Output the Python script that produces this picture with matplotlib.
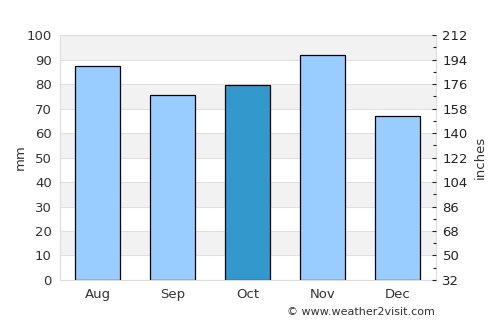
import matplotlib
matplotlib.use("Agg")
import matplotlib.pyplot as plt
import numpy as np

months = ["Aug", "Sep", "Oct", "Nov", "Dec"]
rain_mm = [87.3, 75.5, 79.6, 91.8, 66.9]
bar_colors = ["#99ccff", "#99ccff", "#3399cc", "#99ccff", "#99ccff"]
left_ticks = list(range(0, 101, 10))
right_labels = [32, 50, 68, 86, 104, 122, 140, 158, 176, 194, 212]

fig = plt.figure(figsize=(5, 3.25), dpi=100)
ax = fig.add_axes([0.12, 0.1385, 0.751, 0.7535])

ax.set_xlim(-0.5, 4.5)
ax.set_ylim(0, 100)
for i in range(0, 100, 20):
    ax.axhspan(i + 10, i + 20, color="#f2f2f2", zorder=0, lw=0)
for t in left_ticks:
    ax.axhline(t, color="#e0e0e0", lw=0.8, zorder=0.5)

x = np.arange(len(months))
ax.bar(x, rain_mm, width=0.6, color=bar_colors, edgecolor="black", linewidth=0.9, zorder=2)

ax.set_xticks(x)
ax.set_xticklabels(months)
ax.set_yticks(left_ticks)
ax.tick_params(axis="both", length=0, colors="#333333", labelsize=9.5, pad=6)
for s in ax.spines.values():
    s.set_color("#dddddd")
    s.set_linewidth(0.8)
ax.set_ylabel("mm", color="#333333", fontsize=9.5, labelpad=-0.5)

ax2 = ax.twinx()
ax2.set_ylim(0, 100)
ax2.set_yticks(left_ticks)
ax2.set_yticklabels([str(v) for v in right_labels])
ax2.set_yticks(np.arange(5, 100, 10), minor=True)
ax2.tick_params(axis="y", which="major", direction="in", length=3, width=0.8, color="#222222", labelsize=9.5, pad=5)
ax2.tick_params(axis="y", which="minor", direction="in", length=2.5, width=0.8, color="#222222")
ax2.tick_params(axis="y", which="both", labelcolor="#222222")
for s in ax2.spines.values():
    s.set_visible(False)
ax2.set_ylabel("inches", color="#333333", fontsize=9.5, labelpad=4.5)

fig.text(0.87, 0.025, "© www.weather2visit.com", ha="right", va="bottom", fontsize=8, color="#333333")

fig.savefig("out.png", dpi=100)
